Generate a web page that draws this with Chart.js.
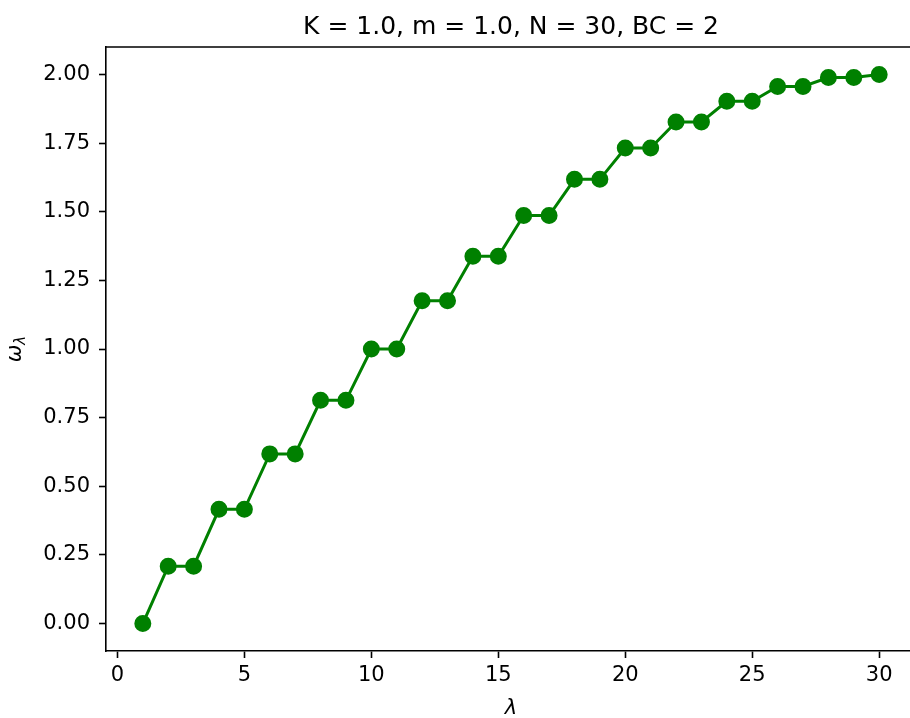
<!DOCTYPE html>
<html>
<head>
<meta charset="utf-8">
<script src="https://cdn.jsdelivr.net/npm/chart.js@4"></script>
<style>
  html, body { margin: 0; padding: 0; background: #fff; overflow: hidden; }
</style>
</head>
<body>
<canvas id="chart" width="920" height="718"></canvas>
<script>
// mode index and frequency
const lambdas = [1, 2, 3, 4, 5, 6, 7, 8, 9, 10, 11, 12, 13, 14, 15,
                 16, 17, 18, 19, 20, 21, 22, 23, 24, 25, 26, 27, 28, 29, 30];
const omegas = [0.000, 0.209, 0.209, 0.416, 0.416, 0.618, 0.618, 0.813, 0.813, 1.000,
                1.000, 1.176, 1.176, 1.338, 1.338, 1.486, 1.486, 1.618, 1.618, 1.732,
                1.732, 1.827, 1.827, 1.902, 1.902, 1.956, 1.956, 1.989, 1.989, 2.000];
const xTicks = [0, 5, 10, 15, 20, 25, 30];
const yTicks = [0, 0.25, 0.5, 0.75, 1.0, 1.25, 1.5, 1.75, 2.0];
const titleText = "K = 1.0, m = 1.0, N = 30, BC = 2";

const FONT = "'DejaVu Sans', sans-serif";

/* ========================================
   TITLES + TOP SPINE (drawn by hand for the subscript)
======================================== */
const labelsPlugin = {
  id: "labels",
  afterDraw(chart) {
    const { ctx, chartArea } = chart;
    ctx.save();

    // top spine (right one falls outside the picture)
    ctx.strokeStyle = "#000";
    ctx.lineWidth = 1.6;
    ctx.beginPath();
    ctx.moveTo(chartArea.left, chartArea.top);
    ctx.lineTo(chartArea.right, chartArea.top);
    ctx.lineTo(chartArea.right, chartArea.bottom);
    ctx.stroke();

    ctx.fillStyle = "#000";
    ctx.textAlign = "center";
    ctx.textBaseline = "alphabetic";

    ctx.font = "25px " + FONT;
    ctx.fillText(titleText, 511, 34);

    ctx.font = "italic 21px " + FONT;
    ctx.fillText("λ", 511, 714);

    // y label: omega with lambda subscript, rotated
    ctx.translate(21, 349);
    ctx.rotate(-Math.PI / 2);
    ctx.textAlign = "left";
    ctx.font = "italic 21px " + FONT;
    const w1 = ctx.measureText("ω").width;
    ctx.font = "italic 15px " + FONT;
    const w2 = ctx.measureText("λ").width;
    const start = -(w1 + w2) / 2;
    ctx.font = "italic 21px " + FONT;
    ctx.fillText("ω", start, 0);
    ctx.font = "italic 15px " + FONT;
    ctx.fillText("λ", start + w1, 4);
    ctx.restore();
  }
};

new Chart(document.getElementById("chart"), {
  type: "line",
  data: {
    datasets: [{
      data: lambdas.map((l, i) => ({ x: l, y: omegas[i] })),
      borderColor: "#008000",
      backgroundColor: "#008000",
      borderWidth: 3,
      pointRadius: 7,
      pointHoverRadius: 7,
      tension: 0
    }]
  },
  options: {
    responsive: false,
    animation: false,
    // plot box runs past the right edge of the picture, as in the original
    layout: { autoPadding: false, padding: { top: 47, right: 4, left: 0, bottom: 0 } },
    plugins: {
      legend: { display: false },
      tooltip: { enabled: false },
      title: { display: false }
    },
    scales: {
      x: {
        type: "linear",
        min: -0.45,
        max: 31.45,
        afterBuildTicks: s => { s.ticks = xTicks.map(v => ({ value: v })); },
        afterFit: s => { s.height = 67; s.paddingLeft = 0; s.paddingRight = 0; },
        border: { color: "#000", width: 1.6 },
        grid: { drawOnChartArea: false, drawTicks: true, tickLength: 7, color: "#000", tickWidth: 1.6 },
        ticks: { color: "#000", font: { family: FONT, size: 21 }, padding: 5, maxRotation: 0 }
      },
      y: {
        type: "linear",
        min: -0.1,
        max: 2.1,
        afterBuildTicks: s => { s.ticks = yTicks.map(v => ({ value: v })); },
        afterFit: s => { s.width = 106; s.paddingTop = 0; s.paddingBottom = 0; },
        border: { color: "#000", width: 1.6 },
        grid: { drawOnChartArea: false, drawTicks: true, tickLength: 7, color: "#000", tickWidth: 1.6 },
        ticks: {
          color: "#000", font: { family: FONT, size: 21 }, padding: 9,
          callback: v => Number(v).toFixed(2)
        }
      }
    }
  },
  plugins: [labelsPlugin]
});
</script>
</body>
</html>
